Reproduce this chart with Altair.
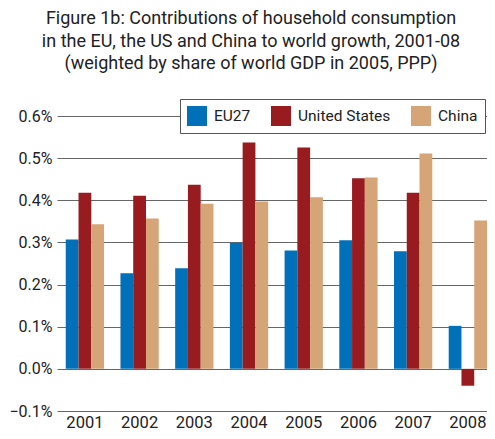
import altair as alt
import pandas as pd

years = ["2001", "2002", "2003", "2004", "2005", "2006", "2007", "2008"]
series = ["EU27", "United States", "China"]
eu27 = [0.307, 0.227, 0.239, 0.299, 0.281, 0.305, 0.279, 0.102]
us = [0.418, 0.411, 0.437, 0.537, 0.525, 0.452, 0.418, -0.040]
china = [0.343, 0.357, 0.392, 0.397, 0.407, 0.454, 0.511, 0.352]
colors = ["#0070B8", "#971B1F", "#D6A577"]
y_ticks = [-0.1, 0.0, 0.1, 0.2, 0.3, 0.4, 0.5, 0.6]

rows = []
for name, vals in zip(series, [eu27, us, china]):
    for yr, v in zip(years, vals):
        rows.append({"year": yr, "series": name, "value": v})
df = pd.DataFrame(rows)

font = "Roboto"

chart = alt.Chart(df).mark_bar().encode(
    x=alt.X("year:N", sort=years, title=None,
            scale=alt.Scale(paddingInner=0.3, paddingOuter=0.08, align=1),
            axis=alt.Axis(labelAngle=0, ticks=False, domain=False,
                          labelFontSize=16.5, labelColor="#222", labelPadding=3,
                          labelFont=font)),
    xOffset=alt.XOffset("series:N", sort=series),
    y=alt.Y("value:Q", title=None,
            scale=alt.Scale(domain=[-0.1, 0.6], nice=False),
            axis=alt.Axis(values=y_ticks, grid=True, gridColor="#666", gridWidth=1,
                          ticks=False, domain=False,
                          labelExpr="format(datum.value, '.1f') + '%'",
                          labelFontSize=16, labelColor="#222", labelPadding=5,
                          labelFont=font)),
    color=alt.Color("series:N", sort=series,
                    scale=alt.Scale(domain=series, range=colors),
                    legend=alt.Legend(title=None, orient="none", direction="horizontal",
                                      legendX=123, legendY=-17,
                                      symbolType="square", symbolSize=400,
                                      symbolStrokeWidth=0, labelFontSize=15.5,
                                      labelFont=font, labelColor="#222",
                                      columnPadding=20, labelOffset=7,
                                      padding=7, strokeColor="#555",
                                      fillColor="white")),
).properties(
    width=479,
    height=423,
    autosize=alt.AutoSizeParams(type="fit", contains="padding"),
    title=alt.TitleParams(
        text=["Figure 1b: Contributions of household consumption",
              "in the EU, the US and China to world growth, 2001-08",
              "(weighted by share of world GDP in 2005, PPP)"],
        font=font, fontSize=18, fontWeight="normal", color="#222",
        lineHeight=22.5, anchor="middle", offset=35, dx=-21,
    ),
    padding={"left": 0, "top": 2, "right": 0, "bottom": 0},
).configure_view(stroke=None)

chart.save("out.html", embed_options={"renderer": "svg", "actions": False})
